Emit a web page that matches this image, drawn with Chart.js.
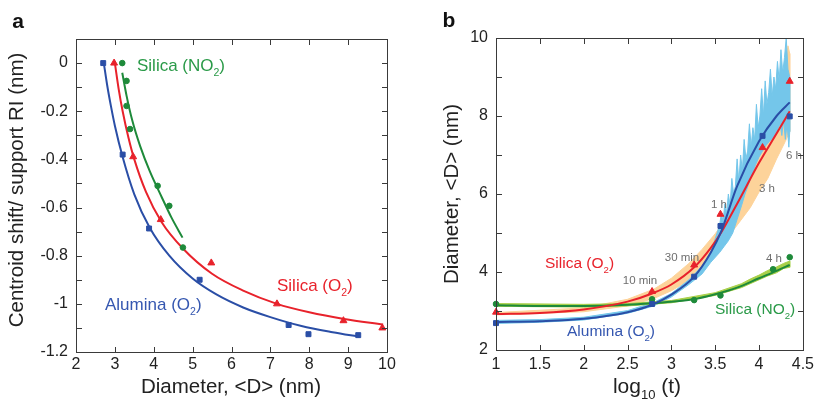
<!DOCTYPE html>
<html>
<head>
<meta charset="utf-8">
<script src="https://cdn.jsdelivr.net/npm/chart.js@4.4.1/dist/chart.umd.min.js"></script>
<style>
  html, body { margin: 0; padding: 0; background: #fff; }
  #chart-a { position: absolute; left: 0; top: 0; }
  #chart-b { position: absolute; left: 410px; top: 0; }
  #overlay { position: absolute; left: 0; top: 0; width: 819px; height: 400px; pointer-events: none; }
  #overlay div { position: absolute; background: #3a3a3a; }
</style>
</head>
<body>
<canvas id="chart-a" width="410" height="400"></canvas>
<canvas id="chart-b" width="409" height="400"></canvas>
<div id="overlay"></div>
<script>
/* ── Panel a data: centroid shift vs diameter ───────────────── */
const aluminaX = [2.7, 3.2, 3.88, 5.18, 7.47, 7.98, 9.26];
const aluminaY = [0, -0.38, -0.687, -0.9, -1.088, -1.126, -1.13];
const silicaO2X = [2.98, 3.47, 4.18, 5.48, 7.17, 8.88, 9.88];
const silicaO2Y = [0, -0.389, -0.65, -0.83, -1.0, -1.07, -1.1];
const silicaNO2X = [3.19, 3.3, 3.3, 3.39, 4.1, 4.4, 4.75];
const silicaNO2Y = [0, -0.074, -0.178, -0.274, -0.51, -0.593, -0.766];

// fitted curves
const aluminaFitX = [2.72, 2.8, 2.9, 3.0, 3.2, 3.5, 3.9, 4.4, 5.0, 5.6, 6.3, 7.0, 7.8, 8.6, 9.3];
const aluminaFitY = [-0.005, -0.09, -0.18, -0.26, -0.39, -0.545, -0.685, -0.8, -0.895, -0.96, -1.015, -1.055, -1.092, -1.118, -1.137];
const silicaO2FitX = [3.0, 3.1, 3.2, 3.35, 3.5, 3.8, 4.2, 4.75, 5.5, 6.3, 7.17, 8.0, 8.9, 9.9];
const silicaO2FitY = [0, -0.11, -0.2, -0.31, -0.4, -0.535, -0.66, -0.77, -0.875, -0.945, -1.0, -1.035, -1.063, -1.086];
const silicaNO2FitX = [3.19, 3.3, 3.45, 3.65, 3.9, 4.2, 4.45, 4.74];
const silicaNO2FitY = [-0.04, -0.135, -0.24, -0.345, -0.45, -0.555, -0.64, -0.725];

const xTicksA = [2, 3, 4, 5, 6, 7, 8, 9, 10];
const yTicksA = [-1.2, -1, -0.8, -0.6, -0.4, -0.2, 0];
const yTickLabelsA = ["-1.2", "-1", "-0.8", "-0.6", "-0.4", "-0.2", "0"];
const yMinorA = [-1.1, -1, -0.9, -0.8, -0.7, -0.6, -0.5, -0.4, -0.3, -0.2, -0.1, 0];

/* ── Panel b data: diameter vs log10(t) ─────────────────────── */
const logT = [1, 2.78, 3.26, 3.56, 4.04, 4.35];
const aluminaD = [2.69, 3.18, 3.88, 5.18, 7.49, 7.99];
const silicaO2D = [2.97, 3.5, 4.18, 5.48, 7.19, 8.89];
const silicaNO2T = [1, 2.78, 3.26, 3.56, 4.16, 4.35];
const silicaNO2D = [3.18, 3.3, 3.28, 3.4, 4.07, 4.38];

const fitT = [1, 1.5, 2, 2.5, 2.78, 3.0, 3.26, 3.45, 3.57, 3.75, 4.0, 4.2, 4.35];
const aluminaFitD = [2.72, 2.74, 2.8, 2.97, 3.16, 3.42, 3.88, 4.5, 5.05, 6.2, 7.35, 8.0, 8.35];
const silicaO2FitD = [2.92, 2.95, 3.04, 3.24, 3.45, 3.68, 4.12, 4.62, 5.02, 5.75, 6.8, 7.55, 8.12];
const nitroFitT = [1, 1.5, 2, 2.5, 2.78, 3.0, 3.25, 3.5, 3.75, 4.0, 4.2, 4.35];
const nitroFitD = [3.15, 3.13, 3.13, 3.16, 3.2, 3.24, 3.3, 3.43, 3.6, 3.84, 4.03, 4.18];

// raw traces as envelopes: upper edge left->right, then lower edge right->left
const blueRawT = [1, 1.5, 2, 2.5, 2.8, 3.0, 3.2, 3.35, 3.45, 3.55, 3.57, 3.59, 3.61, 3.63, 3.65, 3.67, 3.69, 3.71, 3.73, 3.75, 3.77, 3.79, 3.81, 3.83, 3.85, 3.87, 3.89, 3.91, 3.93, 3.95, 3.97, 3.99, 4.01, 4.03, 4.05, 4.07, 4.09, 4.11, 4.13, 4.15, 4.17, 4.19, 4.21, 4.23, 4.25, 4.27, 4.29, 4.31, 4.33, 4.35,
                  4.35, 4.34, 4.32, 4.3, 4.28, 4.26, 4.24, 4.2, 4.16, 4.12, 4.08, 4.04, 4.0, 3.96, 3.92, 3.88, 3.84, 3.8, 3.75, 3.7, 3.65, 3.6, 3.55, 3.45, 3.35, 3.2, 3.0, 2.8, 2.5, 2, 1.5, 1];
const blueRawD = [2.76, 2.78, 2.84, 3.01, 3.22, 3.45, 3.8, 4.15, 4.5, 5.2, 5.5, 5.3, 5.75, 5.5, 6.0, 5.7, 6.4, 6.0, 6.2, 6.9, 6.3, 7.0, 6.6, 7.4, 6.9, 7.1, 7.8, 7.2, 7.7, 7.4, 8.3, 7.7, 8.0, 8.7, 8.0, 8.9, 8.3, 8.6, 9.2, 8.5, 9.0, 8.7, 9.4, 8.9, 9.7, 9.1, 9.5, 10.0, 9.2, 9.0,
                  7.6, 7.2, 7.8, 7.4, 7.9, 7.5, 7.8, 7.6, 7.45, 7.35, 7.25, 7.1, 6.95, 6.75, 6.5, 6.25, 6.0, 5.7, 5.35, 5.0, 4.8, 4.65, 4.5, 4.25, 3.95, 3.68, 3.36, 3.13, 2.94, 2.77, 2.71, 2.68];
const orangeRawT = [1, 2, 2.5, 2.8, 3.0, 3.2, 3.35, 3.5, 3.6, 3.75, 3.9, 4.0, 4.1, 4.2, 4.3, 4.33, 4.35,
                    4.35, 4.3, 4.2, 4.1, 4.0, 3.9, 3.75, 3.6, 3.5, 3.35, 3.2, 3.0, 2.8, 2.5, 2, 1];
const orangeRawD = [2.96, 3.08, 3.3, 3.56, 3.84, 4.22, 4.58, 4.98, 5.3, 6.0, 6.7, 7.2, 7.8, 8.5, 9.3, 9.8, 9.6,
                    7.6, 7.35, 6.9, 6.4, 6.05, 5.65, 5.2, 4.75, 4.45, 4.05, 3.78, 3.52, 3.32, 3.13, 2.98, 2.9];
const greenRawT = [1, 2, 2.5, 3.0, 3.5, 3.8, 3.9, 4.0, 4.1, 4.2, 4.28, 4.35,
                   4.35, 4.28, 4.2, 4.1, 4.0, 3.8, 3.5, 3.0, 2.5, 2, 1];
const greenRawD = [3.19, 3.17, 3.19, 3.27, 3.47, 3.7, 3.82, 3.92, 4.04, 4.13, 4.22, 4.28,
                   4.12, 4.09, 3.98, 3.9, 3.8, 3.6, 3.4, 3.21, 3.13, 3.1, 3.12];

const xTicksB = [1, 1.5, 2, 2.5, 3, 3.5, 4, 4.5];
const yTicksB = [2, 4, 6, 8, 10];
const yMinorB = [3, 4, 5, 6, 7, 8, 9];

/* ── Colours & fonts ────────────────────────────────────────── */
const FONT = "'Liberation Sans', Arial, Helvetica, sans-serif";
const BLUE = "#2a4ea6";
const RED = "#e8222b";
const GREEN = "#1e8a3a";
const LIGHT_BLUE = "#74c6ea";
const ORANGE = "#fdd39a";
const LIGHT_GREEN = "#a8cf48";
const GREY = "#6e6e6e";
const AXIS = "#3a3a3a";
const TICK_LEN = 5;

const pts = (xs, ys) => xs.map((x, i) => ({ x, y: ys[i] }));

function markers(xs, ys, color, style, r) {
    return { data: pts(xs, ys), backgroundColor: color, borderColor: color, borderWidth: 1,
             pointStyle: style, pointRadius: r, showLine: false, clip: false, order: 0 };
}
function fit(xs, ys, color) {
    return { data: pts(xs, ys), borderColor: color, borderWidth: 2, pointRadius: 0,
             showLine: true, cubicInterpolationMode: "monotone", order: 1 };
}
function band(xs, ys, color, order) {
    return { data: pts(xs, ys), borderColor: color, backgroundColor: color, borderWidth: 1,
             pointRadius: 0, showLine: true, tension: 0, fill: "shape", order };
}

/* draw a string made of [text, isSubscript] parts */
function drawParts(ctx, parts, x, y, size, color, align, weight) {
    const w = weight || "normal";
    let total = 0;
    parts.forEach(([t, sub]) => {
        ctx.font = `${w} ${sub ? size * 0.62 : size}px ${FONT}`;
        total += ctx.measureText(t).width;
    });
    let cx = align === "center" ? x - total / 2 : x;
    ctx.fillStyle = color;
    ctx.textAlign = "left";
    ctx.textBaseline = "middle";
    parts.forEach(([t, sub]) => {
        ctx.font = `${w} ${sub ? size * 0.62 : size}px ${FONT}`;
        ctx.fillText(t, cx, sub ? y + size * 0.42 : y);
        cx += ctx.measureText(t).width;
    });
}

/* box frame + inward ticks + free texts */
function framePlugin(cfg) {
    return {
        id: "frame",
        afterDraw(chart) {
            const { ctx, chartArea: a } = chart;
            const xs = chart.scales.x, ys = chart.scales.y;
            ctx.save();
            ctx.fillStyle = AXIS;
            const l = Math.round(a.left), r = Math.round(a.right);
            const t = Math.round(a.top), b = Math.round(a.bottom);
            ctx.fillRect(l, t, r - l + 1, 1);
            ctx.fillRect(l, b, r - l + 1, 1);
            ctx.fillRect(l, t, 1, b - t + 1);
            ctx.fillRect(r, t, 1, b - t + 1);
            cfg.xTicks.forEach(v => {
                const px = Math.round(xs.getPixelForValue(v));
                ctx.fillRect(px, b - TICK_LEN, 1, TICK_LEN);
                ctx.fillRect(px, t + 1, 1, TICK_LEN);
            });
            cfg.yMinor.forEach(v => {
                const py = Math.round(ys.getPixelForValue(v));
                ctx.fillRect(l + 1, py, TICK_LEN, 1);
                ctx.fillRect(r - TICK_LEN, py, TICK_LEN, 1);
            });
            cfg.texts.forEach(tx => {
                ctx.save();
                ctx.translate(tx.x, tx.y);
                if (tx.rotate) ctx.rotate(tx.rotate);
                drawParts(ctx, tx.parts, 0, 0, tx.size, tx.color, tx.align, tx.weight);
                ctx.restore();
            });
            ctx.restore();
        }
    };
}

/* same frame as thin page elements laid over the canvas, placed from the chart's own scales */
function overlayFrame(chart, cfg, offsetX) {
    const host = document.getElementById("overlay");
    const a = chart.chartArea;
    const xs = chart.scales.x, ys = chart.scales.y;
    const l = Math.round(a.left), r = Math.round(a.right);
    const t = Math.round(a.top), b = Math.round(a.bottom);
    const add = (x, y, w, h) => {
        const d = document.createElement("div");
        d.style.left = (offsetX + x) + "px"; d.style.top = y + "px";
        d.style.width = w + "px"; d.style.height = h + "px";
        host.appendChild(d);
    };
    add(l, t, r - l + 1, 1);
    add(l, b, r - l + 1, 1);
    add(l, t, 1, b - t + 1);
    add(r, t, 1, b - t + 1);
    cfg.xTicks.forEach(v => {
        const px = Math.round(xs.getPixelForValue(v));
        add(px, b - TICK_LEN, 1, TICK_LEN);
        add(px, t + 1, 1, TICK_LEN);
    });
    cfg.yMinor.forEach(v => {
        const py = Math.round(ys.getPixelForValue(v));
        add(l + 1, py, TICK_LEN, 1);
        add(r - TICK_LEN, py, TICK_LEN, 1);
    });
}

function makePanel(id, cfg, offsetX) {
    const chart = new Chart(document.getElementById(id), {
        type: "scatter",
        data: { datasets: cfg.datasets },
        plugins: [framePlugin(cfg)],
        options: {
            responsive: false,
            animation: false,
            devicePixelRatio: 1,
            events: [],
            layout: { padding: { top: cfg.top, right: cfg.right, left: 0, bottom: 0 } },
            plugins: {
                legend: { display: false },
                tooltip: { enabled: false }
            },
            scales: {
                x: {
                    type: "linear", min: cfg.xMin, max: cfg.xMax,
                    grid: { display: false, drawTicks: false }, border: { display: false },
                    afterBuildTicks: s => { s.ticks = cfg.xTicks.map(v => ({ value: v })); },
                    afterFit: s => { s.height = cfg.xAxisH; },
                    ticks: { color: "#222", font: { family: FONT, size: 16 }, padding: cfg.xPad,
                             maxRotation: 0, autoSkip: false,
                             callback: (v, i) => String(cfg.xTicks[i]) }
                },
                y: {
                    type: "linear", min: cfg.yMin, max: cfg.yMax,
                    grid: { display: false, drawTicks: false }, border: { display: false },
                    afterBuildTicks: s => { s.ticks = cfg.yTicks.map(v => ({ value: v })); },
                    afterFit: s => { s.width = cfg.yAxisW; },
                    ticks: { color: "#222", font: { family: FONT, size: 16 }, padding: 8,
                             autoSkip: false, callback: (v, i) => cfg.yLabels[i] }
                }
            }
        }
    });
    overlayFrame(chart, cfg, offsetX);
    return chart;
}

/* ── Panel a ────────────────────────────────────────────────── */
makePanel("chart-a", {
    top: 39, right: 23, xAxisH: 48, yAxisW: 76, xPad: 3,
    xMin: 2, xMax: 10, yMin: -1.2, yMax: 0.1,
    xTicks: xTicksA, yTicks: yTicksA, yLabels: yTickLabelsA, yMinor: yMinorA,
    datasets: [
        markers(aluminaX, aluminaY, BLUE, "rect", 3.5),
        markers(silicaO2X, silicaO2Y, RED, "triangle", 4),
        markers(silicaNO2X, silicaNO2Y, GREEN, "circle", 2.8),
        fit(aluminaFitX, aluminaFitY, BLUE),
        fit(silicaO2FitX, silicaO2FitY, RED),
        fit(silicaNO2FitX, silicaNO2FitY, GREEN)
    ],
    texts: [
        { x: 18, y: 22, parts: [["a", 0]], size: 21, color: "#111", align: "center", weight: "bold" },
        { x: 17, y: 190, rotate: -Math.PI / 2, parts: [["Centroid shift/ support RI (nm)", 0]], size: 20.5, color: "#222", align: "center" },
        { x: 231, y: 387, parts: [["Diameter, <D> (nm)", 0]], size: 20.5, color: "#222", align: "center" },
        { x: 137, y: 66, parts: [["Silica (NO", 0], ["2", 1], [")", 0]], size: 17, color: "#2a9a48", align: "left" },
        { x: 277, y: 286, parts: [["Silica (O", 0], ["2", 1], [")", 0]], size: 17, color: RED, align: "left" },
        { x: 105, y: 305, parts: [["Alumina (O", 0], ["2", 1], [")", 0]], size: 17, color: "#3557b0", align: "left" }
    ]
}, 0);

/* ── Panel b ────────────────────────────────────────────────── */
makePanel("chart-b", {
    top: 38, right: 13, xAxisH: 50, yAxisW: 86, xPad: 5,
    xMin: 1, xMax: 4.5, yMin: 2, yMax: 10,
    xTicks: xTicksB, yTicks: yTicksB, yLabels: yTicksB.map(String), yMinor: yMinorB,
    datasets: [
        markers(logT, aluminaD, BLUE, "rect", 3.5),
        markers(logT, silicaO2D, RED, "triangle", 4),
        markers(silicaNO2T, silicaNO2D, GREEN, "circle", 2.8),
        fit(fitT, aluminaFitD, BLUE),
        fit(fitT, silicaO2FitD, RED),
        fit(nitroFitT, nitroFitD, GREEN),
        band(greenRawT, greenRawD, LIGHT_GREEN, 2),
        band(blueRawT, blueRawD, LIGHT_BLUE, 3),
        band(orangeRawT, orangeRawD, ORANGE, 4)
    ],
    texts: [
        { x: 39, y: 21, parts: [["b", 0]], size: 21, color: "#111", align: "center", weight: "bold" },
        { x: 42, y: 194, rotate: -Math.PI / 2, parts: [["Diameter, <D> (nm)", 0]], size: 20.5, color: "#222", align: "center" },
        { x: 237, y: 387, parts: [["log", 0], ["10", 1], [" (t)", 0]], size: 21, color: "#222", align: "center" },
        { x: 135, y: 264, parts: [["Silica (O", 0], ["2", 1], [")", 0]], size: 15.5, color: RED, align: "left" },
        { x: 157, y: 332, parts: [["Alumina (O", 0], ["2", 1], [")", 0]], size: 15.5, color: "#3557b0", align: "left" },
        { x: 305, y: 310, parts: [["Silica (NO", 0], ["2", 1], [")", 0]], size: 15.5, color: "#2a9a48", align: "left" },
        { x: 230, y: 281, parts: [["10 min", 0]], size: 11.5, color: GREY, align: "center" },
        { x: 272, y: 258, parts: [["30 min", 0]], size: 11.5, color: GREY, align: "center" },
        { x: 309, y: 205, parts: [["1 h", 0]], size: 11.5, color: GREY, align: "center" },
        { x: 357, y: 189, parts: [["3 h", 0]], size: 11.5, color: GREY, align: "center" },
        { x: 384, y: 156, parts: [["6 h", 0]], size: 11.5, color: GREY, align: "center" },
        { x: 364, y: 259, parts: [["4 h", 0]], size: 11.5, color: GREY, align: "center" }
    ]
}, 410);
</script>
</body>
</html>
